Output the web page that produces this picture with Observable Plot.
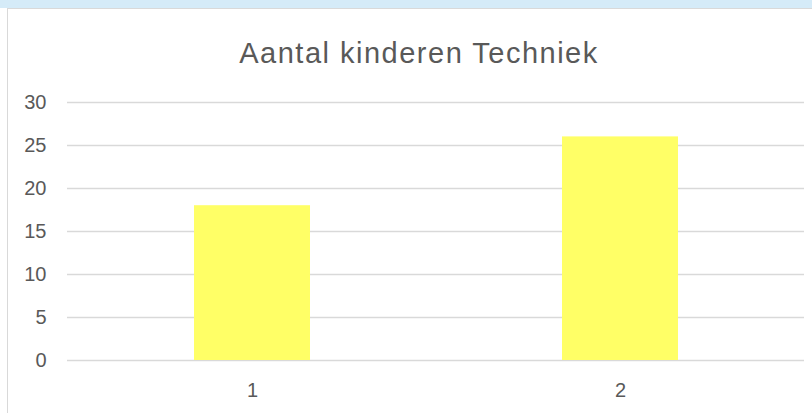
<!DOCTYPE html>
<html>
<head>
<meta charset="utf-8">
<script src="https://cdn.jsdelivr.net/npm/d3@7"></script>
<script src="https://cdn.jsdelivr.net/npm/@observablehq/plot@0.6"></script>
<style>
  html, body { margin: 0; padding: 0; background: #fff; }
  #wrap { position: relative; width: 812px; height: 413px; overflow: hidden; font-family: "Liberation Sans", Arial, sans-serif; }
  #band { position: absolute; left: 0; top: 0; width: 812px; height: 8px; background: #d5ebf8; }
  #frame { position: absolute; left: 7px; top: 8px; width: 900px; height: 500px; border: 1.5px solid #d9d9d9; box-sizing: border-box; }
  #title { position: absolute; left: 0; top: 0; width: 838px; text-align: center; font-size: 29px; letter-spacing: 1.5px; color: #595959; line-height: 1; padding-top: 39px; }
  #chart { position: absolute; left: 0; top: 0; }
</style>
</head>
<body>
<div id="wrap">
  <div id="band"></div>
  <div id="frame"></div>
  <div id="title">Aantal kinderen Techniek</div>
  <div id="chart"></div>
</div>
<script>
const categories = ["1", "2"];
const values = [18, 26];
const yTicks = [0, 5, 10, 15, 20, 25, 30];

const data = categories.map((c, i) => ({category: c, value: values[i]}));

const chart = Plot.plot({
  width: 812,
  height: 413,
  marginLeft: 67,
  marginRight: 8,
  marginTop: 102,
  marginBottom: 53,
  style: {background: "transparent", fontFamily: "Liberation Sans, Arial, sans-serif", color: "#595959"},
  x: {domain: categories, paddingInner: 0.686, paddingOuter: 0.343, label: null},
  y: {domain: [0, 30], label: null},
  marks: [
    Plot.ruleY(yTicks, {stroke: "#d9d9d9", strokeWidth: 1.3}),
    Plot.barY(data, {x: "category", y: "value", fill: "#ffff66"}),
    Plot.axisY({ticks: yTicks, tickSize: 0, tickPadding: 21, fontSize: 20, label: null, fill: "#595959"}),
    Plot.axisX({tickSize: 0, tickPadding: 22, fontSize: 20, label: null, fill: "#595959"})
  ]
});
document.getElementById("chart").appendChild(chart);
</script>
</body>
</html>
